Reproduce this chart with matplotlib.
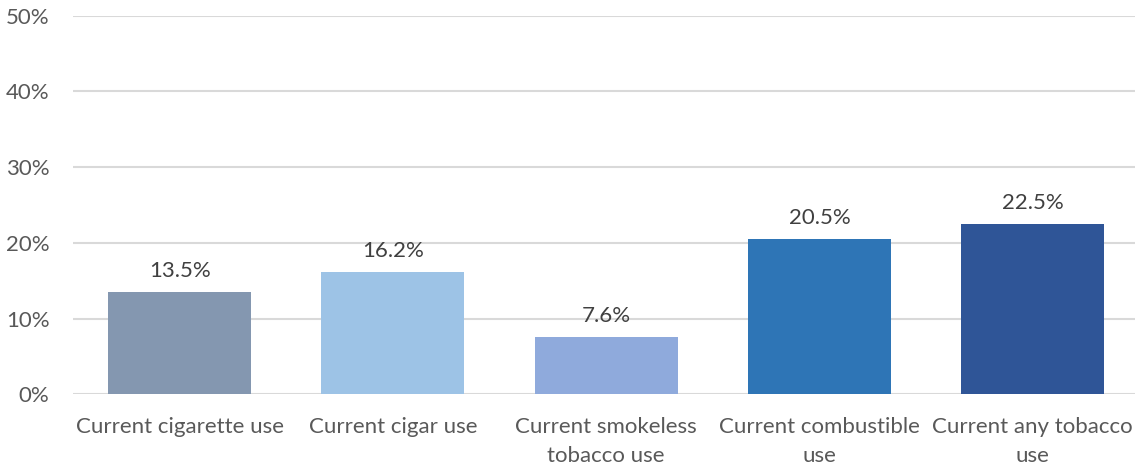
import numpy as np
import matplotlib.pyplot as plt
from matplotlib.ticker import FuncFormatter

categories = ["Current cigarette use", "Current cigar use", "Current smokeless\ntobacco use",
              "Current combustible\nuse", "Current any tobacco\nuse"]
values = [13.5, 16.2, 7.6, 20.5, 22.5]
colors = ["#8497B0", "#9DC3E6", "#8FAADC", "#2E75B6", "#2F5597"]

plt.rcParams['font.family'] = ['Lato', 'DejaVu Sans']
txt = "#595959"

fig = plt.figure(figsize=(11.35, 4.69), dpi=100)
ax = fig.add_axes([73/1135, 0.159, 1062/1135, 0.8075])

x = np.arange(len(categories))
ax.bar(x, values, width=0.67, color=colors, zorder=3)
for xi, v in zip(x, values):
    ax.annotate(f"{v:.1f}%", (xi, v), xytext=(0, 8), textcoords="offset points",
                ha="center", va="bottom", fontsize=16, color="#404040")

ax.set_xlim(-0.5, 4.48)
ax.set_ylim(0, 50)
ax.set_yticks(np.arange(0, 51, 10))
ax.yaxis.set_major_formatter(FuncFormatter(lambda v, p: f"{v:.0f}%"))
ax.set_xticks(x)
ax.set_xticklabels(categories, linespacing=1.6)
ax.tick_params(axis="both", length=0, labelsize=16, colors=txt)
ax.tick_params(axis="y", pad=17)
ax.tick_params(axis="x", pad=16)
ax.grid(axis="y", color="#D9D9D9", lw=1.5, zorder=0)
for s in ax.spines.values():
    s.set_visible(False)

fig.savefig("out.png", dpi=100)
